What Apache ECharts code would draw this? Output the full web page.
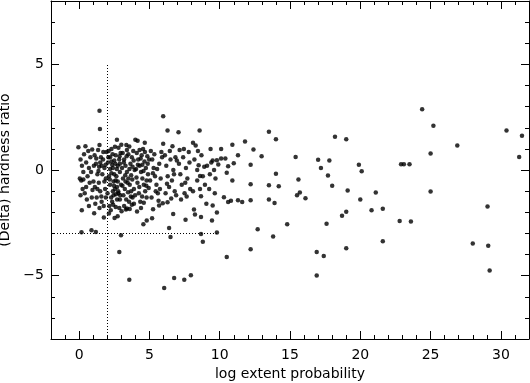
<!DOCTYPE html>
<html>
<head>
<meta charset="utf-8">
<script src="https://cdn.jsdelivr.net/npm/echarts@6/dist/echarts.min.js"></script>
<style>
  html, body { margin: 0; padding: 0; background: #fff; }
  #main { width: 530px; height: 383px; }
</style>
</head>
<body>
<div id="main"></div>
<script>
// 数据: [log extent probability, (Delta) hardness ratio]
var band0to1 = [[-0.05,1.08],[0.45,1.13],[0.1,0.5],[0.2,0.2],[0.05,-0.4],[0.15,-0.5],[0.3,-0.45],[0.25,-0.9],[0.4,-1.1],[0.5,-0.8],[0.6,-0.3],[0.7,0.1],[0.8,0.6],[0.35,0.75],[0.55,-1.4],[0.9,-1.3],[0.19,-1.9],[0.75,-0.6],[0.65,0.9],[0.93,0.97],[0.85,-0.1],[0.5,0.35],[0.3,-0.1],[0.95,-0.95],[0.1,-1.2],[0.7,-1.7],[0.17,-2.95],[0.88,-2.85]];
var band1to2 = [[1.45,2.80],[1.48,1.94],[1.45,1.18],[1.07,-2.05],[1.19,-2.93],[1.76,-2.25],[1.1,0.7],[1.2,0.3],[1.3,-0.2],[1.4,-0.6],[1.5,-1.0],[1.6,-1.5],[1.7,0.5],[1.8,0.1],[1.9,-0.4],[1.25,-1.3],[1.35,0.95],[1.55,0.6],[1.65,-0.2],[1.85,-0.9],[1.95,0.85],[1.15,-1.6],[1.45,-1.8],[1.75,-1.7],[1.05,0.2],[1.6,0.2],[1.3,-0.9],[1.9,-1.3],[1.5,0.35],[1.8,-0.55],[1.02,-0.55],[1.22,0.55],[1.38,-0.05],[1.58,-1.25],[1.72,0.85],[1.88,0.25],[1.12,-0.8],[1.42,0.15]];
var band2to3 = [[2.1,0.9],[2.2,0.6],[2.3,0.4],[2.4,0.1],[2.5,-0.2],[2.6,-0.5],[2.7,-0.8],[2.8,-1.1],[2.9,-1.4],[2.15,-1.7],[2.25,-1.9],[2.35,-1.5],[2.45,-1.2],[2.55,-0.9],[2.65,-0.3],[2.75,0.2],[2.85,0.5],[2.95,0.8],[2.69,1.43],[2.55,1.1],[2.3,1.0],[2.05,0.35],[2.12,-0.3],[2.2,-0.7],[2.4,-1.0],[2.6,0.7],[2.8,1.05],[2.9,-0.1],[2.5,0.45],[2.7,-1.4],[2.52,-2.27],[2.74,-2.19],[2.12,-2.06],[2.35,0.25],[2.45,-0.55],[2.75,-0.55],[2.98,-0.7],[2.86,-1.8],[2.02,-1.1],[2.6,-1.75],[2.3,-0.15],[2.9,0.3],[2.2,0.05],[2.08,0.6],[2.18,-0.45],[2.28,-1.3],[2.38,0.75],[2.48,-0.75],[2.58,0.3],[2.68,0.05],[2.78,-1.0],[2.88,0.65],[2.42,-1.65],[2.62,-1.15],[2.92,-1.2]];
var band3to4 = [[3.02,-1.95],[3.33,-1.87],[3.4,-1.82],[2.98,-3.09],[2.86,-3.88],[3.57,-5.2],[3.36,1.18],[3.57,1.11],[3.1,0.8],[3.2,0.5],[3.3,0.2],[3.4,-0.1],[3.5,-0.4],[3.6,-0.7],[3.7,-1.0],[3.8,-1.3],[3.9,-1.6],[3.15,-1.2],[3.25,-0.9],[3.45,-0.6],[3.55,-1.5],[3.65,0.3],[3.75,0.6],[3.85,0.9],[3.95,0.0],[3.05,0.1],[3.12,-0.4],[3.35,-1.4],[3.5,0.75],[3.7,-0.25],[3.8,0.15],[3.9,-0.9],[3.2,-1.7],[3.6,-1.85],[3.0,1.2],[3.4,0.95],[3.75,-1.65],[3.3,-0.55],[3.08,-0.75],[3.18,0.35],[3.28,-0.25],[3.38,0.65],[3.48,-1.05],[3.58,0.05],[3.68,-1.25],[3.78,-0.45],[3.88,0.45],[3.98,-1.2]];
var band4to5 = [[4.0,1.43],[4.16,1.38],[4.67,1.29],[4.12,-1.97],[4.57,-2.57],[4.81,-2.39],[4.1,0.8],[4.2,0.5],[4.3,0.2],[4.4,-0.1],[4.5,-0.4],[4.6,-0.7],[4.7,-1.0],[4.8,-1.3],[4.9,-0.2],[4.15,-0.6],[4.25,-1.1],[4.35,-1.5],[4.45,0.7],[4.55,1.0],[4.65,0.4],[4.75,0.1],[4.85,0.65],[4.95,-0.85],[4.05,0.05],[4.4,-1.8],[4.6,-1.55],[4.3,0.95],[4.8,-0.5],[4.5,0.25],[4.08,-0.35],[4.18,0.25],[4.28,-0.8],[4.38,0.55],[4.48,-1.25],[4.58,-0.05],[4.68,0.85],[4.78,-0.75],[4.88,0.3],[4.98,0.5]];
var band5to7 = [[5.19,-2.28],[5.26,-1.86],[5.69,-1.68],[5.95,-1.57],[5.98,2.55],[5.98,1.24],[5.1,0.9],[5.2,0.5],[5.3,0.1],[5.4,-0.3],[5.5,-0.7],[5.6,-1.1],[5.7,0.3],[5.8,-0.4],[5.9,0.6],[5.15,-1.3],[5.35,0.75],[5.45,-1.0],[5.55,0.05],[5.75,-0.9],[5.85,0.85],[5.05,-0.5],[5.65,-1.45],[5.25,-0.15],
  [6.29,1.87],[6.29,-1.53],[6.05,-5.58],[6.4,-2.74],[6.5,-3.17],[6.69,-2.08],[6.76,-5.11],[6.64,1.13],[6.9,-1.2],[6.1,0.7],[6.2,0.2],[6.3,-0.3],[6.4,-0.8],[6.5,0.5],[6.6,-0.5],[6.7,0.0],[6.8,-1.0],[6.95,0.45],[6.15,-1.1],[6.45,0.9],[6.55,-1.35],[6.85,0.6],[6.25,-0.65],[6.75,-0.2]];
var band7to10 = [[7.07,1.79],[7.57,-2.36],[7.48,-5.19],[7.95,-4.98],[7.1,0.3],[7.2,-0.2],[7.3,-0.7],[7.4,0.6],[7.5,-1.1],[7.6,0.1],[7.7,-0.4],[7.8,0.85],[7.9,-0.9],[7.25,-1.4],[7.45,1.0],[7.65,-1.25],[7.85,0.35],[7.15,0.95],[7.55,-0.6],
  [8.57,1.87],[8.1,1.29],[8.29,1.16],[8.67,-2.23],[8.67,-3.03],[8.8,-3.4],[8.24,-2.11],[8.17,-1.87],[8.67,-1.24],[8.2,0.5],[8.5,0.23],[8.4,0.0],[8.6,-0.28],[8.4,-0.5],[8.6,-0.9],[8.7,0.7],[8.8,-0.3],[8.9,0.15],[8.45,0.9],[8.95,-0.7],[8.1,-1.0],
  [9.45,-2.39],[9.5,-1.68],[9.05,-1.60],[9.8,-2.01],[9.8,-2.96],[9.5,0.45],[9.1,0.2],[9.4,0.36],[9.3,-0.2],[9.6,0.0],[9.7,-0.4],[9.8,0.46],[9.9,0.26],[9.25,-0.9],[9.65,-1.1],[9.35,1.0]];
var tailPts = [[10.1,0.99],[10.9,1.19],[11.8,1.35],[12.4,0.97],[11.3,0.70],[10.1,0.55],[10.4,0.55],[10.6,0.18],[10.5,-0.13],[11.0,0.32],[10.9,-0.5],[12.2,-0.67],[12.2,0.25],[10.3,-1.29],[10.6,-1.51],[10.8,-1.45],[11.3,-1.43],[11.6,-1.51],[12.2,-1.43],[12.7,-2.80],[12.2,-3.75],[10.5,-4.12],
  [12.98,0.65],[13.5,1.81],[14.0,1.46],[14.0,-0.18],[13.5,-0.72],[14.2,-0.77],[13.5,-1.40],[13.9,-1.56],[13.8,-3.15],[14.8,-2.57],
  [15.4,0.62],[15.6,-0.45],[15.5,-1.19],[15.7,-1.07],[16.1,-1.34],[17.0,0.48],[17.2,0.10],[17.8,0.45],[17.7,-0.26],[18.0,-0.75],[18.2,1.57],[19.0,1.46],[19.1,-0.97],[19.9,0.25],[20.1,-0.06],[20.0,-1.40],[21.1,-1.07],
  [17.6,-2.54],[18.7,-2.16],[19.0,-1.98],[20.8,-1.90],[21.6,-1.84],[22.8,-2.41],[23.6,-2.44],[21.6,-3.37],[16.9,-3.88],[17.4,-4.07],[19.0,-3.71],[16.9,-4.99],
  [22.9,0.27],[23.1,0.27],[23.5,0.27],[24.4,2.88],[25.0,0.78],[25.2,2.09],[25.0,-1.02],[26.9,1.16],[30.4,1.87],[31.3,0.61],[31.5,1.62],
  [28.0,-3.48],[29.1,-3.58],[29.05,-1.73],[29.2,-4.76]];

var points = [].concat(band0to1, band1to2, band2to3, band3to4, band4to5, band5to7, band7to10, tailPts);

// 坐标轴范围和刻度
var xMin = -2, xMax = 32;
var yMin = -8, yMax = 8;
var xMajorTicks = [0, 5, 10, 15, 20, 25, 30];
var xMinorTicks = [-1, 1, 2, 3, 4, 6, 7, 8, 9, 11, 12, 13, 14, 16, 17, 18, 19, 21, 22, 23, 24, 26, 27, 28, 29, 31];
var yMajorTicks = [-5, 0, 5];
var yMinorTicks = [-7, -6, -4, -3, -2, -1, 1, 2, 3, 4, 6, 7];

// 虚线: 竖线 x=2 (y -8..5), 横线 y=-3 (x -2..9.8)
var cutX = 2, cutXFrom = -8, cutXTo = 5;
var cutY = -3, cutYFrom = -2, cutYTo = 9.8;

var font = 'DejaVu Sans';

function axis(dim, pos, ticks, len, withLabel, withLine) {
    var a = {
        type: 'value',
        position: pos,
        min: dim === 'x' ? xMin : yMin,
        max: dim === 'x' ? xMax : yMax,
        splitLine: {show: false},
        axisLine: {show: withLine, onZero: false, lineStyle: {color: '#000', width: 1}},
        axisTick: {show: true, inside: true, length: len, customValues: ticks, lineStyle: {color: '#000', width: 1}},
        axisLabel: {show: false}
    };
    if (withLabel) {
        a.axisLabel = {
            show: true,
            customValues: ticks,
            color: '#000',
            fontFamily: font,
            fontSize: 14,
            margin: dim === 'x' ? 9 : 7,
            formatter: function (v) { return String(v).replace('-', '\u2212'); }
        };
    }
    return a;
}

var xBottom = axis('x', 'bottom', xMajorTicks, 8, true, true);
xBottom.name = 'log extent probability';
xBottom.nameLocation = 'middle';
xBottom.nameGap = 26;
xBottom.nameTextStyle = {color: '#000', fontFamily: font, fontSize: 14};

var yLeft = axis('y', 'left', yMajorTicks, 8, true, true);
yLeft.name = '(Delta) hardness ratio';
yLeft.nameLocation = 'middle';
yLeft.nameGap = 34;
yLeft.nameTextStyle = {color: '#000', fontFamily: font, fontSize: 14};

var chart = echarts.init(document.getElementById('main'));
var option = {
    animation: false,
    backgroundColor: '#fff',
    grid: {left: 51, right: 1, top: 1, bottom: 44, containLabel: false, outerBoundsMode: 'none'},
    xAxis: [
        xBottom,
        axis('x', 'bottom', xMinorTicks, 4, false, false),
        axis('x', 'top', xMajorTicks, 8, false, true),
        axis('x', 'top', xMinorTicks, 4, false, false)
    ],
    yAxis: [
        yLeft,
        axis('y', 'left', yMinorTicks, 4, false, false),
        axis('y', 'right', yMajorTicks, 8, false, true),
        axis('y', 'right', yMinorTicks, 4, false, false)
    ],
    series: [
        {
            type: 'scatter',
            xAxisIndex: 0,
            yAxisIndex: 0,
            symbol: 'circle',
            symbolSize: 4.5,
            itemStyle: {color: '#000'},
            data: points,
            markLine: {
                silent: true,
                symbol: 'none',
                label: {show: false},
                lineStyle: {color: '#000', width: 1, type: [1, 2]},
                data: [
                    [{coord: [cutX, cutXFrom]}, {coord: [cutX, cutXTo]}],
                    [{coord: [cutYFrom, cutY]}, {coord: [cutYTo, cutY]}]
                ]
            }
        }
    ]
};
chart.setOption(option);
</script>
</body>
</html>
